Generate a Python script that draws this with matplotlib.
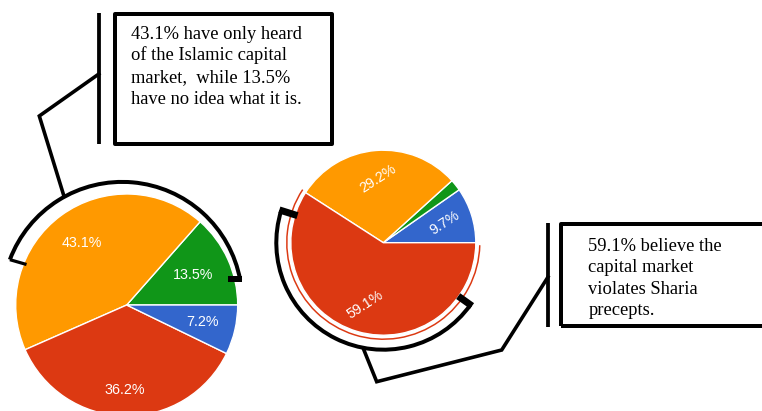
import numpy as np
import matplotlib
matplotlib.use("Agg")
import matplotlib.pyplot as plt
from matplotlib.patches import Arc, Rectangle

# ---------------- data ----------------
left_labels = ["13.5%", "43.1%", "36.2%", "7.2%"]
left_values = [13.5, 43.1, 36.2, 7.2]
left_colors = ["#109618", "#FF9900", "#DC3912", "#3366CC"]

right_labels = ["9.7%", "", "29.2%", "59.1%"]
right_values = [9.7, 2.0, 29.2, 59.1]
right_colors = ["#3366CC", "#109618", "#FF9900", "#DC3912"]

left_note = ["43.1% have only heard",
             "of the Islamic capital",
             "market,  while 13.5%",
             "have no idea what it is."]
right_note = ["59.1% believe the",
              "capital market",
              "violates Sharia",
              "precepts."]

# ---------------- layout (pixel coords, y downward) ----------------
W, H = 762, 411
PX = 72 / 100.0  # points per pixel


def P(x, y):
    return (x, H - y)


fig = plt.figure(figsize=(W / 100, H / 100), dpi=100)
ax = fig.add_axes([0, 0, 1, 1])

# ---------- left pie ----------
lc = (126.7, 305.0)
lr = 111.0
wedges, _ = ax.pie(left_values, colors=left_colors, startangle=0, counterclock=True,
                   center=P(*lc), radius=lr,
                   wedgeprops=dict(edgecolor="white", linewidth=1.0))
left_dist = [0.66, 0.69, 0.77, 0.70]
for w, lab, d in zip(wedges, left_labels, left_dist):
    mid = np.deg2rad((w.theta1 + w.theta2) / 2)
    cx, cy = P(*lc)
    ax.text(cx + d * lr * np.cos(mid), cy + d * lr * np.sin(mid), lab,
            ha="center", va="center", color="white", fontsize=10.3,
            family="Liberation Sans")

# ---------- right pie ----------
rc = (383.3, 242.7)
rr = 92.5
wedges2, _ = ax.pie(right_values, colors=right_colors, startangle=0, counterclock=True,
                    center=P(*rc), radius=rr,
                    wedgeprops=dict(edgecolor="white", linewidth=1.0))
for w, lab in zip(wedges2, right_labels):
    if not lab:
        continue
    mid = np.deg2rad((w.theta1 + w.theta2) / 2)
    cx, cy = P(*rc)
    ax.text(cx + 0.70 * rr * np.cos(mid), cy + 0.70 * rr * np.sin(mid), lab,
            ha="center", va="center", color="white", fontsize=10.3,
            rotation=33, rotation_mode="anchor", family="Liberation Sans")

# thin red ring around red slice
red_w = wedges2[3]
ax.add_patch(Arc(P(*rc), 2 * 96.5, 2 * 96.5, theta1=red_w.theta1 - 0.6, theta2=358.5,
                 color="#DC3912", lw=1.5 * PX))

# ---------- black brackets ----------
# left bracket
lac = (122.2, 301.9)
lar = 120.0
ax.add_patch(Arc(P(*lac), 2 * lar, 2 * lar, theta1=10.6, theta2=159.4,
                 color="black", lw=4.0 * PX))
ex = lac[0] + lar * np.cos(np.deg2rad(159.4))
ey = lac[1] - lar * np.sin(np.deg2rad(159.4))
ax.plot(*zip(P(ex, ey), P(26.5, 264.5)), color="black", lw=3.2 * PX,
        solid_capstyle="butt")
ax.plot(*zip(P(241.8, 279.0), P(228.0, 279.0)), color="black", lw=6.0 * PX,
        solid_capstyle="butt")

# right bracket
rar = 107.0
ax.add_patch(Arc(P(*rc), 2 * rar, 2 * rar, theta1=162.5, theta2=324.5,
                 color="black", lw=4.0 * PX))
for ang, r_out, r_in in [(162.5, 109.0, 90.0), (-35.5, 109.0, 92.0)]:
    a = np.deg2rad(ang)
    cx, cy = P(*rc)
    ax.plot([cx + r_out * np.cos(a), cx + r_in * np.cos(a)],
            [cy + r_out * np.sin(a), cy + r_in * np.sin(a)],
            color="black", lw=7.0 * PX, solid_capstyle="butt")

# ---------- connectors ----------
lpath = [P(63.3, 194.0), P(39.3, 116.0), P(98.8, 74.0)]
ax.plot(*zip(*lpath), color="black", lw=3.6 * PX, solid_joinstyle="miter")
rpath = [P(363.3, 348.5), P(376.7, 381.7), P(501.7, 350.0), P(548.0, 277.0)]
ax.plot(*zip(*rpath), color="black", lw=3.6 * PX, solid_joinstyle="miter")

# ---------- callout boxes ----------
ax.plot(*zip(P(98.8, 12.7), P(98.8, 144.3)), color="black", lw=3.8 * PX,
        solid_capstyle="butt")
ax.add_patch(Rectangle(P(114.7, 144.0), 332.0 - 114.7, 144.0 - 13.7,
                       fill=False, edgecolor="black", lw=4.0 * PX, joinstyle="round"))
for i, line in enumerate(left_note):
    ax.text(131.0, H - (39.0 + i * 21.5), line, ha="left", va="baseline",
            fontsize=13.3, family="Liberation Serif", color="black")

ax.plot(*zip(P(548.0, 223.3), P(548.0, 326.7)), color="black", lw=3.8 * PX,
        solid_capstyle="butt")
ax.add_patch(Rectangle(P(561.0, 325.8), 820.0 - 561.0, 325.8 - 224.5,
                       fill=False, edgecolor="black", lw=4.0 * PX, joinstyle="round"))
for i, line in enumerate(right_note):
    ax.text(588.3, H - (250.7 + i * 21.5), line, ha="left", va="baseline",
            fontsize=13.3, family="Liberation Serif", color="black")

ax.set_xlim(0, W)
ax.set_ylim(0, H)
ax.set_aspect("auto")
ax.axis("off")

fig.savefig("out.png", dpi=100)
